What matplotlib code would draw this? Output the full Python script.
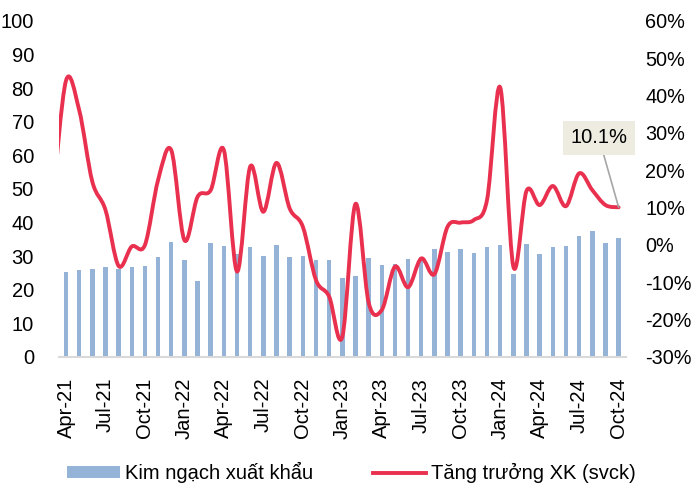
import matplotlib
matplotlib.use('Agg')
import matplotlib.pyplot as plt
from matplotlib.path import Path
from matplotlib.patches import PathPatch, Patch
from matplotlib.lines import Line2D
import numpy as np
import pandas as pd

plt.rcParams['font.family'] = ['Liberation Sans', 'DejaVu Sans']

# --- data ---
months = pd.date_range('2021-04-01', '2024-10-01', freq='MS')
month_labels = [m.strftime('%b-%y') for m in months]

export_value = [25.2, 25.8, 26.3, 26.8, 26.1, 26.8, 27.1, 29.8, 34.3, 28.8,
                22.7, 33.8, 33.0, 30.7, 32.6, 30.1, 33.2, 29.8, 30.1, 28.9,
                28.9, 23.4, 24.1, 29.6, 27.4, 27.8, 29.3, 29.7, 32.1, 31.2,
                32.1, 31.0, 32.7, 33.4, 24.6, 33.7, 30.7, 32.6, 32.9, 36.0,
                37.6, 33.8, 35.4]

# growth series starts one month earlier (Mar-21), only its tail shows
growth_start = -1
growth_yoy = [12.0, 44.0, 36.2, 17.0, 9.4, -5.6, -0.4, 0.0, 17.4, 25.4, 1.3,
              12.9, 14.7, 25.4, -7.1, 21.0, 8.9, 22.0, 9.8, 4.9, -9.4,
              -13.8, -24.6, 11.0, -15.4, -17.4, -5.8, -11.3, -3.6, -7.8, 4.9,
              6.0, 6.7, 12.1, 42.2, -5.8, 14.5, 10.7, 15.8, 10.4, 19.2,
              14.7, 10.7, 10.1]

bar_color = '#95B3D7'
line_color = '#E9314F'

fig = plt.figure(figsize=(6.95, 4.88), dpi=100)
ax = fig.add_axes([59 / 695, 131 / 488, 567 / 695, 336 / 488])
ax2 = ax.twinx()

x = np.arange(len(export_value))
ax.bar(x, export_value, width=0.34, color=bar_color, zorder=2)
ax.set_xlim(-0.53, 42.56)
ax.set_ylim(0, 100)
ax.set_yticks(np.arange(0, 101, 10))

tick_idx = list(range(0, len(month_labels), 3))
ax.set_xticks(tick_idx)
ax.set_xticklabels([month_labels[i] for i in tick_idx], rotation=90)

# smooth line (Excel style): cubic bezier through the points
gx = np.arange(len(growth_yoy)) + growth_start
gy = np.array(growth_yoy)
pts = np.column_stack([gx, gy])
verts = [pts[0]]
codes = [Path.MOVETO]
for i in range(len(pts) - 1):
    p0 = pts[i - 1] if i > 0 else pts[i]
    p1, p2 = pts[i], pts[i + 1]
    p3 = pts[i + 2] if i + 2 < len(pts) else pts[i + 1]
    verts += [p1 + (p2 - p0) / 6, p2 - (p3 - p1) / 6, p2]
    codes += [Path.CURVE4] * 3
ax2.add_patch(PathPatch(Path(verts, codes), facecolor='none', edgecolor=line_color,
                        lw=2.8, capstyle='round', joinstyle='round', zorder=3))
ax2.set_ylim(-30, 60)
ax2.set_yticks(np.arange(-30, 61, 10))
ax2.set_yticklabels([f'{v}%' for v in range(-30, 61, 10)])

ax2.annotate('10.1%', xy=(42, 10.1), xytext=(40.5, 28.7),
             ha='center', va='center', fontsize=14.5,
             bbox=dict(boxstyle='square,pad=0.38', fc='#EEECE1', ec='none'),
             arrowprops=dict(arrowstyle='-', color='#A6A6A6', lw=1.2,
                             shrinkA=0, shrinkB=0))

for a in (ax, ax2):
    for s in ('top', 'left', 'right'):
        a.spines[s].set_visible(False)
    a.spines['bottom'].set_color('#D9D9D9')
    a.spines['bottom'].set_linewidth(1.5)
ax2.spines['bottom'].set_visible(False)

ax.tick_params(axis='y', length=0, pad=18, labelsize=14.5)
ax.tick_params(axis='x', length=0, pad=15, labelsize=14.5)
ax2.tick_params(axis='y', length=0, pad=14, labelsize=14.3)

handles = [Patch(facecolor=bar_color, edgecolor='none'),
           Line2D([0], [0], color=line_color, lw=2.8)]
fig.legend(handles, ['Kim ngạch xuất khẩu', 'Tăng trưởng XK (svck)'],
           loc='center left', bbox_to_anchor=(0.097, 0.031), ncol=2,
           frameon=False, fontsize=14.5, borderpad=0, borderaxespad=0,
           handlelength=2.6, handleheight=0.55, handletextpad=0.25,
           columnspacing=3.0)

fig.savefig('out.png', dpi=100)
